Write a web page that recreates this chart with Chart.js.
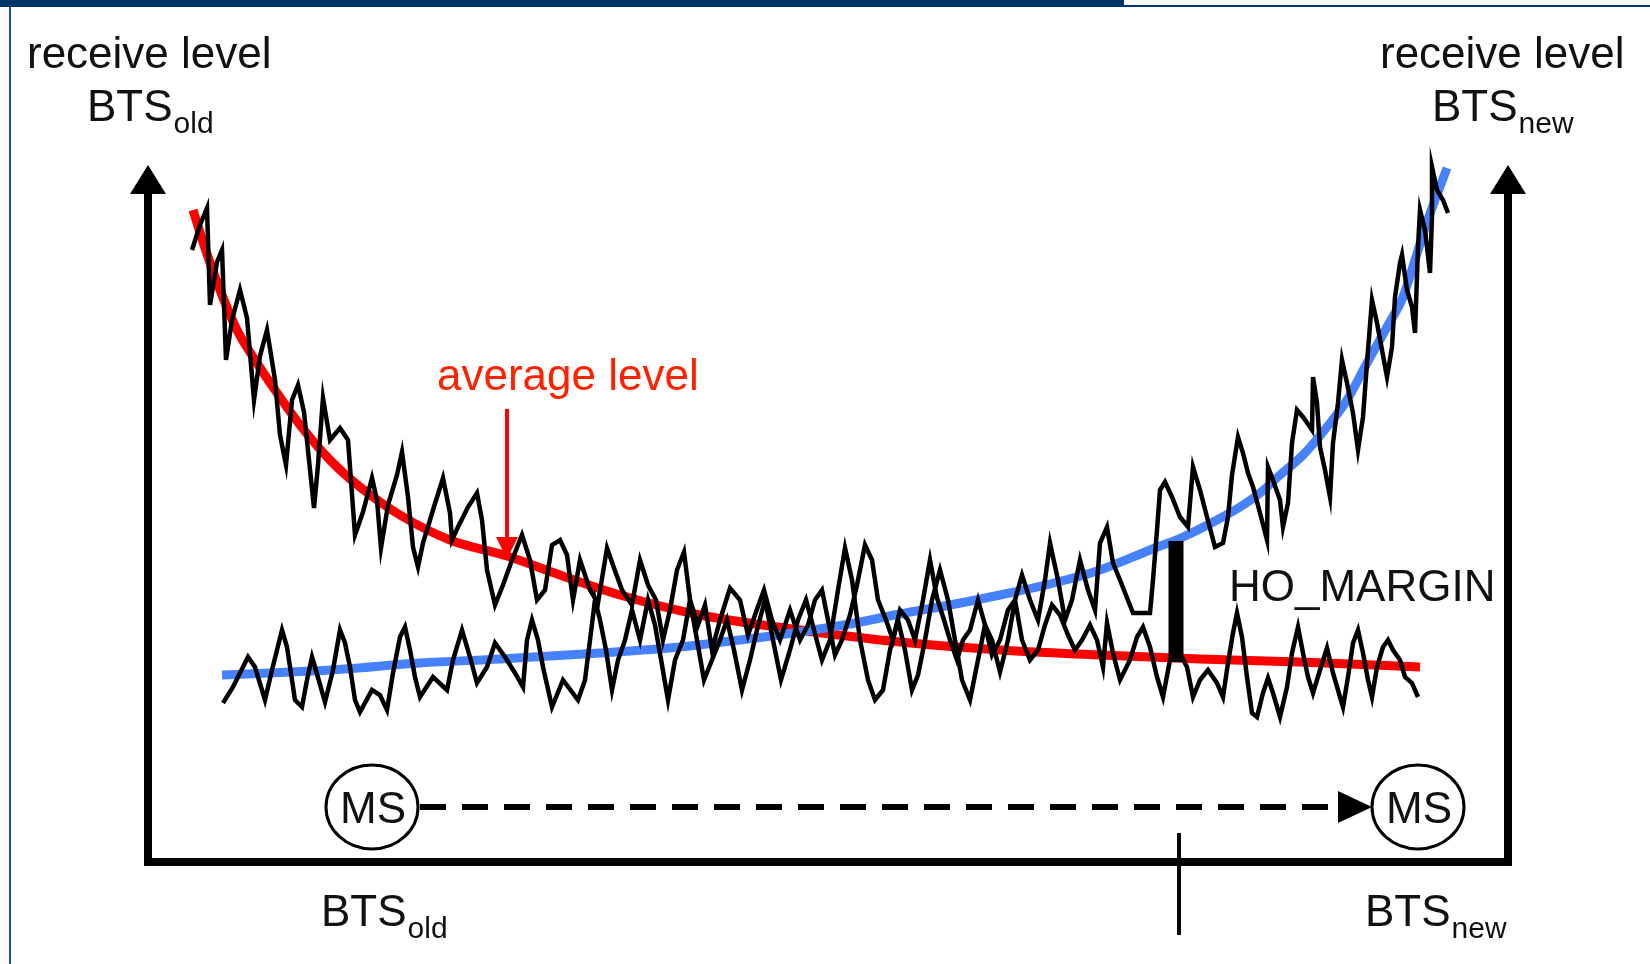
<!DOCTYPE html>
<html><head><meta charset="utf-8">
<script src="https://cdn.jsdelivr.net/npm/chart.js@4.4.1/dist/chart.umd.min.js"></script>
<style>html,body{margin:0;padding:0;background:#fff;overflow:hidden}#wrap{position:relative;width:1650px;height:964px}</style>
</head><body><div id="wrap"><canvas id="c" width="1650" height="964"></canvas></div>
<script>
// distance axis: 0 (BTS old) .. 136 (BTS new); level axis 0 .. 69.4
const distanceRange = [0, 136];
const levelRange = [0, 69.4];

// average receive level of BTS old (red)
const avgOldX = [4.5,5.7,7.2,8.9,10.7,12.7,15.2,18.2,21.2,25.2,30.2,35.9,41.2,47.2,55.2,65.2,75.2,85.2,95.2,105.2,115.2,127.2];
const avgOldY = [65.2,61.4,57.2,53.2,50.2,47.2,43.7,40.2,37.5,34.7,32.2,30.6,28.7,26.7,24.7,23.2,22.0,21.2,20.7,20.3,20.0,19.5];

// average receive level of BTS new (blue)
const avgNewX = [7.4,18.2,27.2,35.2,45.2,53.2,59.2,65.2,70.2,75.2,80.2,85.2,90.2,95.2,100.2,103.5,106.9,109.2,111.2,113.2,115.5,117.9,119.9,121.9,123.9,125.5,126.7,127.9,129.0,129.9];
const avgNewY = [18.7,19.2,19.9,20.3,20.9,21.5,22.2,23.0,23.8,24.8,25.7,26.7,27.8,29.2,31.2,32.5,34.2,35.5,36.9,38.7,40.7,43.5,46.2,49.9,53.5,56.5,60.2,64.0,67.0,69.4];

// measured (fluctuating) receive level of BTS old
const rawOldX = [4.4,5.2,5.9,6.2,6.9,7.4,7.8,8.4,9.2,9.9,10.6,11.2,11.9,12.7,13.2,13.8,14.4,15.0,15.6,16.1,16.6,17.0,17.5,18.2,19.2,20.0,20.7,21.5,22.4,22.9,23.3,24.0,24.9,25.4,26.0,26.5,27.0,27.5,28.5,29.5,30.2,30.4,31.0,32.0,32.9,33.4,33.9,34.7,35.5,36.4,37.4,38.2,38.9,39.7,40.4,41.2,41.9,42.5,43.2,44.2,45.0,45.9,46.6,47.4,48.4,49.2,50.0,50.8,51.5,52.2,52.9,53.6,54.2,55.0,55.7,56.4,57.2,58.2,59.2,60.0,60.8,61.6,62.4,63.2,64.2,65.2,66.0,66.7,67.4,68.0,68.7,69.4,70.2,70.9,71.7,72.4,73.0,73.8,74.5,75.2,76.0,76.7,77.5,78.2,78.9,79.6,80.2,80.9,81.5,82.2,83.0,83.7,84.4,85.2,86.0,86.7,87.4,88.2,89.0,89.7,90.4,91.2,92.0,92.7,93.4,94.2,94.9,95.5,95.9,96.5,97.2,98.2,98.9,99.5,100.2,100.9,101.5,102.2,103.0,103.9,104.5,105.2,106.0,106.9,107.5,108.0,108.5,108.9,109.4,109.9,110.4,110.9,111.5,112.0,112.5,113.2,113.9,114.4,115.0,115.5,116.0,116.5,117.2,117.9,118.5,119.2,119.5,120.0,120.5,121.0,121.5,122.0,122.4,122.9,123.5,124.0,124.5,125.2,125.7,126.4,127.0];
const rawOldY = [61.2,63.7,65.4,55.7,60.0,61.2,50.2,54.2,57.2,54.4,46.2,50.6,53.2,48.2,42.7,39.7,46.2,47.7,45.0,40.2,35.4,39.7,46.4,42.2,43.4,42.2,32.7,35.0,38.4,36.2,31.4,35.7,38.7,41.0,36.5,31.5,29.5,31.9,35.2,38.4,34.9,32.2,33.5,35.5,36.9,34.2,29.2,25.7,27.7,30.2,32.7,30.2,26.2,27.2,31.7,32.2,30.7,26.2,30.2,27.2,25.9,31.4,29.4,27.2,25.7,30.2,27.7,26.2,22.2,25.2,29.2,31.0,26.2,23.7,25.7,21.2,24.2,27.4,26.2,22.7,25.0,27.2,24.2,22.2,25.2,22.2,23.7,26.2,27.2,24.2,20.7,22.2,24.7,27.7,31.7,30.2,26.2,24.2,22.2,25.2,24.2,22.2,26.2,30.2,26.4,24.2,22.2,20.2,22.2,23.2,26.2,23.7,20.7,22.2,25.2,26.2,22.2,20.2,21.2,23.7,25.7,24.7,22.7,21.2,22.2,23.7,22.2,19.5,23.9,20.9,18.2,20.2,22.5,23.5,21.5,18.5,16.5,20.2,21.2,19.5,16.5,18.2,19.2,17.9,16.5,19.9,22.9,24.9,22.5,18.5,14.9,14.5,16.9,18.4,16.9,14.5,17.5,20.9,23.5,20.9,18.5,16.9,19.2,21.4,18.9,16.5,15.5,18.5,21.9,23.2,20.9,18.2,16.5,19.5,21.5,22.2,21.2,20.2,18.5,17.9,16.5];

// measured (fluctuating) receive level of BTS new
const rawNewX = [7.5,8.5,10.0,10.7,11.7,12.4,13.4,13.9,14.7,15.4,15.9,16.4,16.7,17.7,18.5,19.2,19.7,20.2,20.7,21.2,22.4,23.2,23.9,24.5,25.2,25.7,26.2,26.7,27.2,28.5,29.9,30.5,31.4,32.2,32.9,33.9,34.7,35.7,36.7,37.5,37.9,38.4,39.0,39.5,40.4,41.5,43.0,43.7,44.2,44.7,45.2,45.8,46.4,47.0,47.7,48.4,49.2,50.0,50.7,51.4,52.0,52.7,53.5,54.2,54.9,55.6,56.4,57.2,57.9,58.6,59.4,60.2,60.9,61.7,62.5,63.3,64.2,65.0,65.8,66.6,67.4,68.2,69.0,69.7,70.4,71.2,72.0,72.7,73.5,74.2,75.0,75.7,76.4,77.0,77.7,78.4,79.2,80.0,80.7,81.4,82.2,83.0,83.7,84.4,85.2,86.0,86.7,87.4,88.2,89.0,89.7,90.2,91.0,91.7,92.4,93.2,94.0,94.7,95.2,95.9,96.5,97.2,98.5,100.2,100.5,100.9,101.2,101.7,102.4,103.2,104.0,104.5,105.2,105.9,106.7,107.5,108.0,108.4,109.0,109.5,110.0,110.5,111.2,111.9,112.0,112.5,113.2,113.5,114.0,114.4,114.9,115.5,116.4,116.5,116.9,117.2,117.7,118.2,118.5,119.0,119.4,119.9,120.5,121.0,121.5,121.9,122.4,122.9,123.4,123.9,124.4,124.7,125.2,125.4,125.9,126.4,126.7,127.0,127.2,127.7,128.2,128.4,128.4,128.9,129.5,130.0];
const rawNewY = [15.9,17.5,20.5,19.5,16.2,19.2,23.2,21.5,16.2,15.5,18.2,20.5,19.5,16.0,19.2,23.2,21.9,19.5,16.2,15.0,17.2,16.7,15.2,18.9,22.5,23.5,21.2,18.5,16.5,18.5,17.2,20.2,23.2,20.5,17.9,19.5,21.9,20.5,18.9,17.5,22.2,24.2,22.2,19.5,15.5,18.2,16.2,18.2,22.2,26.2,24.2,21.2,17.2,20.2,22.2,25.2,22.2,26.2,23.7,19.7,16.2,20.2,22.2,26.2,22.2,18.2,20.2,22.2,24.2,21.2,17.2,20.2,23.2,26.2,22.2,18.2,21.2,24.2,26.2,23.2,20.2,22.2,27.2,31.4,28.2,22.2,18.2,16.2,17.2,21.2,24.2,21.2,17.2,18.7,22.2,26.2,29.2,26.2,22.2,18.2,16.2,20.2,23.7,22.2,19.0,22.2,26.2,28.7,26.2,24.2,28.2,31.9,28.2,24.2,26.2,30.2,27.2,25.2,31.9,33.5,29.9,28.2,24.9,24.9,28.2,33.2,37.2,38.0,36.5,34.5,33.5,39.5,37.2,34.5,31.5,31.9,34.5,38.7,42.5,40.9,38.9,37.5,34.9,32.2,39.5,38.2,36.2,33.5,35.9,41.9,45.2,44.5,43.2,48.5,45.9,41.5,39.2,36.5,41.9,45.9,50.2,47.9,44.9,41.2,44.5,49.9,56.2,53.9,51.2,48.5,51.5,56.5,59.9,60.7,57.2,55.5,52.9,61.5,65.2,63.2,58.9,64.5,69.5,67.2,66.2,64.9];

// HO_MARGIN bar, average-level pointer, MS positions, handover mark
const marginX = [102.8, 102.8];
const marginY = [32.1, 20.0];
const pointerX = [35.9, 35.9];
const pointerY = [45.3, 31.5];
const msX = [22.4, 127.0];
const msY = 5.5;
const moveX = [27.2, 119.2, 122.4];
const hoMarkX = [103.1, 103.1];
const hoMarkY = [2.9, -7.3];

const pts = (xs, ys) => xs.map((x, i) => ({x: x, y: ys[i]}));
const FONT = '"Liberation Sans", Arial, sans-serif';

const decor = {
  id: 'decor',
  beforeDraw(chart) {
    const ctx = chart.ctx;
    ctx.save();
    ctx.fillStyle = '#ffffff';
    ctx.fillRect(0, 0, chart.width, chart.height);
    ctx.fillStyle = '#003366';
    ctx.fillRect(0, 0, 1124, 7);
    ctx.fillRect(1124, 5, 526, 2);
    ctx.fillStyle = '#1f4f8f';
    ctx.fillRect(9, 7, 2, 957);
    ctx.restore();
  },
  afterDatasetsDraw(chart) {
    const ctx = chart.ctx, xs = chart.scales.x, ys = chart.scales.y;
    const px = v => xs.getPixelForValue(v), py = v => ys.getPixelForValue(v);
    const x0 = px(distanceRange[0]), x1 = px(distanceRange[1]);
    const y0 = py(levelRange[0]), yT = py(levelRange[1]);
    ctx.save();
    // axes
    ctx.strokeStyle = '#000'; ctx.fillStyle = '#000';
    ctx.lineWidth = 8; ctx.lineCap = 'butt';
    ctx.beginPath();
    ctx.moveTo(x0, yT + 20); ctx.lineTo(x0, y0 + 4);
    ctx.moveTo(x0 - 4, y0); ctx.lineTo(x1 + 4, y0);
    ctx.moveTo(x1, y0 + 4); ctx.lineTo(x1, yT + 20);
    ctx.stroke();
    [x0, x1].forEach(x => {
      ctx.beginPath();
      ctx.moveTo(x, yT - 3); ctx.lineTo(x + 18, yT + 26); ctx.lineTo(x - 18, yT + 26); ctx.closePath();
      ctx.fill();
    });
    // pointer tip
    const pX = px(pointerX[1]), pY = py(pointerY[1]);
    ctx.fillStyle = '#ff0000';
    ctx.beginPath(); ctx.moveTo(pX - 11, pY - 10); ctx.lineTo(pX + 11, pY - 10); ctx.lineTo(pX, pY + 12); ctx.closePath(); ctx.fill();
    // dashed movement arrow
    const my = py(msY);
    ctx.strokeStyle = '#000'; ctx.lineWidth = 6; ctx.setLineDash([26, 16]);
    ctx.beginPath(); ctx.moveTo(px(moveX[0]), my); ctx.lineTo(px(moveX[1]), my); ctx.stroke();
    ctx.setLineDash([]);
    ctx.fillStyle = '#000';
    ctx.beginPath(); ctx.moveTo(px(moveX[2]), my); ctx.lineTo(px(moveX[1]) - 2, my - 16); ctx.lineTo(px(moveX[1]) - 2, my + 16); ctx.closePath(); ctx.fill();
    // MS circles
    msX.forEach(v => {
      const cx = px(v);
      ctx.fillStyle = '#fff'; ctx.strokeStyle = '#000'; ctx.lineWidth = 3;
      ctx.beginPath(); ctx.ellipse(cx, my, 46, 42, 0, 0, Math.PI * 2); ctx.fill(); ctx.stroke();
      ctx.fillStyle = '#111'; ctx.font = '44px ' + FONT; ctx.textAlign = 'center'; ctx.textBaseline = 'alphabetic';
      ctx.fillText('MS', cx + 1, my + 16);
    });
    // texts
    ctx.textAlign = 'left'; ctx.textBaseline = 'alphabetic'; ctx.fillStyle = '#111';
    const big = '44px ' + FONT, small = '30px ' + FONT;
    const bts = (x, y, sub) => {
      ctx.font = big; ctx.fillText('BTS', x, y);
      const w = ctx.measureText('BTS').width;
      ctx.font = small; ctx.fillText(sub, x + w + 1, y + 12);
    };
    ctx.font = big;
    ctx.fillText('receive level', 27, 68);
    ctx.fillText('receive level', 1380, 68);
    bts(87, 121, 'old');
    bts(1432, 121, 'new');
    bts(321, 926, 'old');
    bts(1365, 926, 'new');
    ctx.font = big;
    ctx.fillText('HO_MARGIN', 1229, 601);
    ctx.fillStyle = '#ff2200';
    ctx.fillText('average level', 437, 390);
    ctx.restore();
  }
};

new Chart(document.getElementById('c'), {
  type: 'scatter',
  data: {
    datasets: [
      {label: 'average BTS old', data: pts(avgOldX, avgOldY), showLine: true, borderColor: '#ff0000', borderWidth: 9, cubicInterpolationMode: 'monotone', order: 5, clip: false},
      {label: 'average BTS new', data: pts(avgNewX, avgNewY), showLine: true, borderColor: '#4682ff', borderWidth: 9, cubicInterpolationMode: 'monotone', order: 4, clip: false},
      {label: 'BTS old', data: pts(rawOldX, rawOldY), showLine: true, borderColor: '#000', borderWidth: 4.5, tension: 0, order: 3, clip: false},
      {label: 'BTS new', data: pts(rawNewX, rawNewY), showLine: true, borderColor: '#000', borderWidth: 4.5, tension: 0, order: 2, clip: false},
      {label: 'HO_MARGIN', data: pts(marginX, marginY), showLine: true, borderColor: '#000', borderWidth: 15, borderCapStyle: 'butt', order: 1, clip: false},
      {label: 'pointer', data: pts(pointerX, pointerY), showLine: true, borderColor: '#ff0000', borderWidth: 4, borderCapStyle: 'butt', order: 1, clip: false},
      {label: 'handover', data: pts(hoMarkX, hoMarkY), showLine: true, borderColor: '#000', borderWidth: 4, borderCapStyle: 'butt', order: 1, clip: false}
    ]
  },
  options: {
    responsive: false, animation: false, devicePixelRatio: 1,
    layout: {padding: {left: 148, right: 142, top: 168, bottom: 102}},
    elements: {point: {radius: 0, hoverRadius: 0}, line: {borderJoinStyle: 'miter'}},
    plugins: {legend: {display: false}, tooltip: {enabled: false}},
    scales: {
      x: {type: 'linear', min: distanceRange[0], max: distanceRange[1], display: false},
      y: {type: 'linear', min: levelRange[0], max: levelRange[1], display: false}
    }
  },
  plugins: [decor]
});
</script>
</body></html>
